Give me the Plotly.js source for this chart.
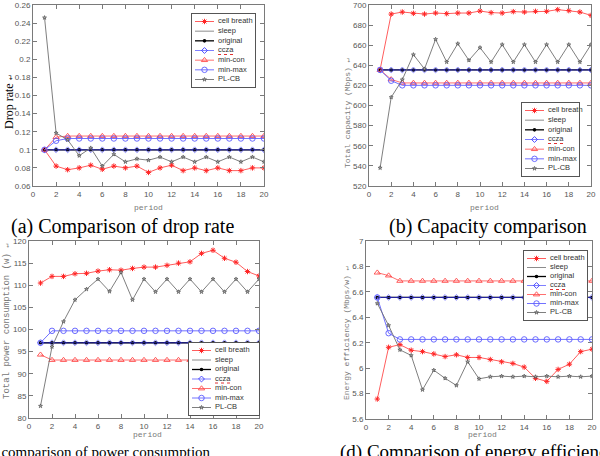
<!DOCTYPE html>
<html>
<head>
<meta charset="utf-8">
<script src="https://cdn.plot.ly/plotly-3.0.1.min.js"></script>
<style>
  html, body { margin: 0; padding: 0; background: #fff; }
  #chart { width: 600px; height: 456px; }
</style>
</head>
<body>
<div id="chart"></div>
<script>
// ---- data -------------------------------------------------------------
const periods = [1,2,3,4,5,6,7,8,9,10,11,12,13,14,15,16,17,18,19,20];
const xTicks = [0,2,4,6,8,10,12,14,16,18,20];
const seriesNames = ['cell breath','sleep','original','ccza','min-con','min-max','PL-CB'];

// (a) drop rate
const dropCellBreath = [0.100,0.082,0.078,0.080,0.083,0.0785,0.082,0.080,0.082,0.075,0.080,0.083,0.077,0.080,0.077,0.080,0.077,0.077,0.080,0.080];
const dropSleep      = [0.1,0.1,0.1,0.1,0.1,0.1,0.1,0.1,0.1,0.1,0.1,0.1,0.1,0.1,0.1,0.1,0.1,0.1,0.1,0.1];
const dropOriginal   = [0.1,0.1,0.1,0.1,0.1,0.1,0.1,0.1,0.1,0.1,0.1,0.1,0.1,0.1,0.1,0.1,0.1,0.1,0.1,0.1];
const dropCcza       = [0.1,0.1,0.1,0.1,0.1,0.1,0.1,0.1,0.1,0.1,0.1,0.1,0.1,0.1,0.1,0.1,0.1,0.1,0.1,0.1];
const dropMinCon     = [0.100,0.114,0.1152,0.1152,0.1152,0.1152,0.1152,0.1152,0.1152,0.1152,0.1152,0.1152,0.1152,0.1152,0.1152,0.1152,0.1152,0.1152,0.1152,0.1152];
const dropMinMax     = [0.100,0.110,0.1125,0.1125,0.1125,0.1125,0.1125,0.1125,0.1125,0.1125,0.1125,0.1125,0.1125,0.1125,0.1125,0.1125,0.1125,0.1125,0.1125,0.1125];
const dropPLCB       = [0.246,0.1185,0.111,0.0935,0.102,0.082,0.095,0.0867,0.090,0.0885,0.092,0.0867,0.092,0.0867,0.092,0.0867,0.092,0.0867,0.092,0.0867];

// (b) total capacity (Mbps)
const capCellBreath = [635.7,691.0,693.0,691.7,691.0,692.0,691.4,692.0,692.0,694.0,692.4,692.0,693.4,693.0,693.7,693.7,695.4,694.4,693.0,689.7];
const capSleep      = [635.4,635.4,635.4,635.4,635.4,635.4,635.4,635.4,635.4,635.4,635.4,635.4,635.4,635.4,635.4,635.4,635.4,635.4,635.4,635.4];
const capOriginal   = [635.4,635.4,635.4,635.4,635.4,635.4,635.4,635.4,635.4,635.4,635.4,635.4,635.4,635.4,635.4,635.4,635.4,635.4,635.4,635.4];
const capCcza       = [635.4,635.4,635.4,635.4,635.4,635.4,635.4,635.4,635.4,635.4,635.4,635.4,635.4,635.4,635.4,635.4,635.4,635.4,635.4,635.4];
const capMinCon     = [635.4,626.0,622.5,622.5,622.5,622.5,622.5,622.5,622.5,622.5,622.5,622.5,622.5,622.5,622.5,622.5,622.5,622.5,622.5,622.5];
const capMinMax     = [635.4,624.7,620.1,620.1,620.1,620.1,620.1,620.1,620.1,620.1,620.1,620.1,620.1,620.1,620.1,620.1,620.1,620.1,620.1,620.1];
const capPLCB       = [538.0,608.2,625.7,650.6,636.4,665.9,643.3,661.5,645.0,657.6,643.3,660.6,643.3,660.6,643.3,660.6,643.3,660.6,643.3,660.6];

// (c) total power consumption (w)
const powCellBreath = [110.5,112.0,112.0,112.6,112.7,113.2,113.5,113.4,113.8,114.1,114.1,114.5,115.0,115.3,117.2,117.9,116.1,115.2,113.1,112.1];
const powSleep      = [97.0,97.0,97.0,97.0,97.0,97.0,97.0,97.0,97.0,97.0,97.0,97.0,97.0,97.0,97.0,97.0,97.0,97.0,97.0,97.0];
const powOriginal   = [97.0,97.0,97.0,97.0,97.0,97.0,97.0,97.0,97.0,97.0,97.0,97.0,97.0,97.0,97.0,97.0,97.0,97.0,97.0,97.0];
const powCcza       = [97.0,97.0,97.0,97.0,97.0,97.0,97.0,97.0,97.0,97.0,97.0,97.0,97.0,97.0,97.0,97.0,97.0,97.0,97.0,97.0];
const powMinCon     = [94.3,93.1,93.1,93.1,93.1,93.1,93.1,93.1,93.1,93.1,93.1,93.1,93.1,93.1,93.1,93.1,93.1,93.1,93.1,93.1];
const powMinMax     = [97.0,99.7,99.7,99.7,99.7,99.7,99.7,99.7,99.7,99.7,99.7,99.7,99.7,99.7,99.7,99.7,99.7,99.7,99.7,99.7];
const powPLCB       = [82.7,96.1,101.8,106.7,109.1,111.4,108.6,112.9,106.7,111.4,108.5,111.4,108.5,111.4,108.5,111.4,108.5,111.4,108.5,111.4];

// (d) energy efficiency (Mbps/w)
const effCellBreath = [5.757,6.164,6.185,6.141,6.130,6.112,6.091,6.105,6.084,6.084,6.068,6.050,6.037,6.008,5.920,5.896,5.990,6.031,6.130,6.149];
const effSleep      = [6.556,6.556,6.556,6.556,6.556,6.556,6.556,6.556,6.556,6.556,6.556,6.556,6.556,6.556,6.556,6.556,6.556,6.556,6.556,6.556];
const effOriginal   = [6.556,6.556,6.556,6.556,6.556,6.556,6.556,6.556,6.556,6.556,6.556,6.556,6.556,6.556,6.556,6.556,6.556,6.556,6.556,6.556];
const effCcza       = [6.556,6.556,6.556,6.556,6.556,6.556,6.556,6.556,6.556,6.556,6.556,6.556,6.556,6.556,6.556,6.556,6.556,6.556,6.556,6.556];
const effMinCon     = [6.751,6.728,6.686,6.686,6.686,6.686,6.686,6.686,6.686,6.686,6.686,6.686,6.686,6.686,6.686,6.686,6.686,6.686,6.686,6.686];
const effMinMax     = [6.556,6.275,6.226,6.226,6.226,6.226,6.226,6.226,6.226,6.226,6.226,6.226,6.226,6.226,6.226,6.226,6.226,6.226,6.226,6.226];
const effPLCB       = [6.509,6.336,6.144,6.100,5.830,5.984,5.920,5.864,6.050,5.916,5.932,5.937,5.932,5.937,5.932,5.937,5.932,5.937,5.932,5.937];

// ---- styling ----------------------------------------------------------
const W = 600, H = 456;
const TICK_FONT = 'Arial, "Liberation Sans", sans-serif';
const MONO_FONT = '"Liberation Mono", "DejaVu Sans Mono", monospace';
const SERIF_FONT = '"Times New Roman", "Liberation Serif", serif';

const lineColors = ['#ff5e5e', '#8c8c8c', '#000000', '#3b3bff', '#ff7070', '#7272ff', '#707070'];
const lineWidths = [1, 1, 1.3, 1, 1, 1, 0.9];
const lineOpacity = [1, 1, 1, 0.65, 1, 1, 1];
const markers = [
  {symbol: 'asterisk-open', size: 4.5, color: '#ff2626', line: {color: '#ff2626', width: 1}},
  null,
  {symbol: 'circle', size: 3.6, color: '#000000'},
  {symbol: 'diamond-open', size: 4.5, color: '#3b3bff', line: {color: '#3b3bff', width: 0.9}},
  {symbol: 'triangle-up-open', size: 5.5, color: '#ff4a4a', line: {color: '#ff4a4a', width: 0.9}},
  {symbol: 'circle-open', size: 5.5, color: '#5a5aff', line: {color: '#5a5aff', width: 0.9}},
  {symbol: 'star', size: 3, color: '#b0b0b0', line: {color: '#444444', width: 0.6}}
];

// panel boxes in pixels: [left, top, right, bottom]
const panels = [
  {box: [33, 5, 264, 186],  range: [0.06, 0.26], dtick: 0.02,
   series: [dropCellBreath, dropSleep, dropOriginal, dropCcza, dropMinCon, dropMinMax, dropPLCB],
   legendBox: [192, 14, 255, 87]},
  {box: [369, 5, 591, 186], range: [520, 700], dtick: 20,
   series: [capCellBreath, capSleep, capOriginal, capCcza, capMinCon, capMinMax, capPLCB],
   legendBox: [522, 103, 579, 176]},
  {box: [29, 241, 259, 418], range: [80, 120], dtick: 5,
   series: [powCellBreath, powSleep, powOriginal, powCcza, powMinCon, powMinMax, powPLCB],
   legendBox: [189, 343, 259, 415]},
  {box: [366, 241, 592, 419], range: [5.6, 7], dtick: 0.2,
   series: [effCellBreath, effSleep, effOriginal, effCcza, effMinCon, effMinMax, effPLCB],
   legendBox: [524, 251, 587, 320]}
];

const px = v => v / W;
const py = v => 1 - v / H;

function mainAxis(domain, range, dtick, ticks) {
  const ax = {
    domain: domain, range: range, autorange: false,
    ticks: 'inside', ticklen: 4, tickwidth: 1, tickcolor: '#7a7a7a',
    showline: true, mirror: 'ticks', linecolor: '#7a7a7a', linewidth: 1,
    showgrid: false, zeroline: false, fixedrange: true,
    tickfont: {family: TICK_FONT, size: 8, color: '#555555'}
  };
  if (ticks) { ax.tickmode = 'array'; ax.tickvals = ticks; ax.ticktext = ticks.map(String); }
  else { ax.tickmode = 'linear'; ax.tick0 = range[0]; ax.dtick = dtick; }
  return ax;
}

const data = [];
const layout = {
  width: W, height: H,
  margin: {l: 0, r: 0, t: 0, b: 0, pad: 0},
  paper_bgcolor: '#ffffff', plot_bgcolor: '#ffffff',
  showlegend: false,
  annotations: []
};

panels.forEach((p, k) => {
  const n = k + 1;
  const xa = n === 1 ? 'x' : 'x' + n;
  const ya = n === 1 ? 'y' : 'y' + n;
  const [l, t, r, b] = p.box;
  layout[n === 1 ? 'xaxis' : 'xaxis' + n] = Object.assign(mainAxis([px(l), px(r)], [0, 20], 2, xTicks), {anchor: ya});
  layout[n === 1 ? 'yaxis' : 'yaxis' + n] = Object.assign(mainAxis([py(b), py(t)], p.range, p.dtick), {anchor: xa});

  p.series.forEach((vals, i) => {
    const tr = {
      type: 'scatter', x: periods, y: vals, xaxis: xa, yaxis: ya,
      name: seriesNames[i], opacity: lineOpacity[i],
      mode: markers[i] ? 'lines+markers' : 'lines',
      line: {color: lineColors[i], width: lineWidths[i]},
      hoverinfo: 'skip', cliponaxis: true
    };
    if (markers[i]) tr.marker = markers[i];
    data.push(tr);
  });
});

// per-panel legend boxes, drawn on their own small axes (pixel units inside the box)
panels.forEach((p, k) => {
  const n = k + 5;
  const xa = 'x' + n, ya = 'y' + n;
  const [l, t, r, b] = p.legendBox;
  const w = r - l, h = b - t;
  layout['xaxis' + n] = {domain: [px(l), px(r)], range: [0, w], anchor: ya, showline: true, mirror: true,
    linecolor: '#555555', linewidth: 1, showgrid: false, zeroline: false, showticklabels: false, ticks: '', fixedrange: true};
  layout['yaxis' + n] = {domain: [py(b), py(t)], range: [h, 0], anchor: xa, showline: true, mirror: true,
    linecolor: '#555555', linewidth: 1, showgrid: false, zeroline: false, showticklabels: false, ticks: '', fixedrange: true};

  data.push({type: 'scatter', x: [0, w, w, 0, 0], y: [0, 0, h, h, 0], xaxis: xa, yaxis: ya,
    mode: 'lines', fill: 'toself', fillcolor: '#ffffff', line: {width: 0}, hoverinfo: 'skip'});

  const pad = 7.5, step = (h - 2 * pad) / 6;
  seriesNames.forEach((name, i) => {
    const yy = pad + i * step;
    data.push({type: 'scatter', x: [3, 22], y: [yy, yy], xaxis: xa, yaxis: ya, mode: 'lines',
      opacity: lineOpacity[i], line: {color: lineColors[i], width: lineWidths[i]}, hoverinfo: 'skip'});
    if (markers[i]) {
      data.push({type: 'scatter', x: [12.5], y: [yy], xaxis: xa, yaxis: ya, mode: 'markers',
        marker: markers[i], hoverinfo: 'skip', cliponaxis: false});
    }
    data.push({type: 'scatter', x: [26], y: [yy], xaxis: xa, yaxis: ya, mode: 'text', text: [name],
      textposition: 'middle right', cliponaxis: false,
      textfont: {family: TICK_FONT, size: 7.5, color: '#333333'}, hoverinfo: 'skip'});
    if (name === 'ccza') {
      data.push({type: 'scatter', x: [26, 41], y: [yy + 4, yy + 4], xaxis: xa, yaxis: ya, mode: 'lines',
        line: {color: '#e03030', width: 1, dash: 'dot'}, hoverinfo: 'skip', cliponaxis: false});
    }
  });
});

// axis titles and captions
function note(text, x, y, font, opts) {
  layout.annotations.push(Object.assign({
    text: text, xref: 'paper', yref: 'paper', x: px(x), y: py(y),
    xanchor: 'center', yanchor: 'middle', showarrow: false, font: font
  }, opts || {}));
}
const mark = ' <span style="font-size:7px">↵</span>';
note('Drop rate' + mark, 9, 102, {family: SERIF_FONT, size: 12, color: '#000000'}, {textangle: -90});
note('Total capacity (Mbps)' + mark, 348, 113, {family: MONO_FONT, size: 8, color: '#777777'}, {textangle: -90});
note('Total power consumption (w)' + mark, 7, 322, {family: MONO_FONT, size: 9, color: '#777777'}, {textangle: -90});
note('Energy efficiency (Mbps/w)' + mark, 346, 333, {family: MONO_FONT, size: 8, color: '#777777'}, {textangle: -90});

const periodFont = {family: MONO_FONT, size: 8, color: '#777777'};
note('period', 148, 207, periodFont);
note('period', 484, 207, periodFont);
note('period', 147, 434, periodFont);
note('period', 482, 434, periodFont);

note('(a) Comparison of drop rate', 123, 227, {family: SERIF_FONT, size: 20, color: '#000000'});
note('(b) Capacity comparison', 488, 227, {family: SERIF_FONT, size: 20, color: '#000000'});
note('(c) comparison of power consumption', 213, 452, {family: SERIF_FONT, size: 15, color: '#000000'}, {xanchor: 'right'});
note('(d) Comparison of energy efficiency', 338, 452, {family: SERIF_FONT, size: 19, color: '#000000'}, {xanchor: 'left'});

Plotly.newPlot('chart', data, layout, {staticPlot: true, displayModeBar: false});
</script>
</body>
</html>
